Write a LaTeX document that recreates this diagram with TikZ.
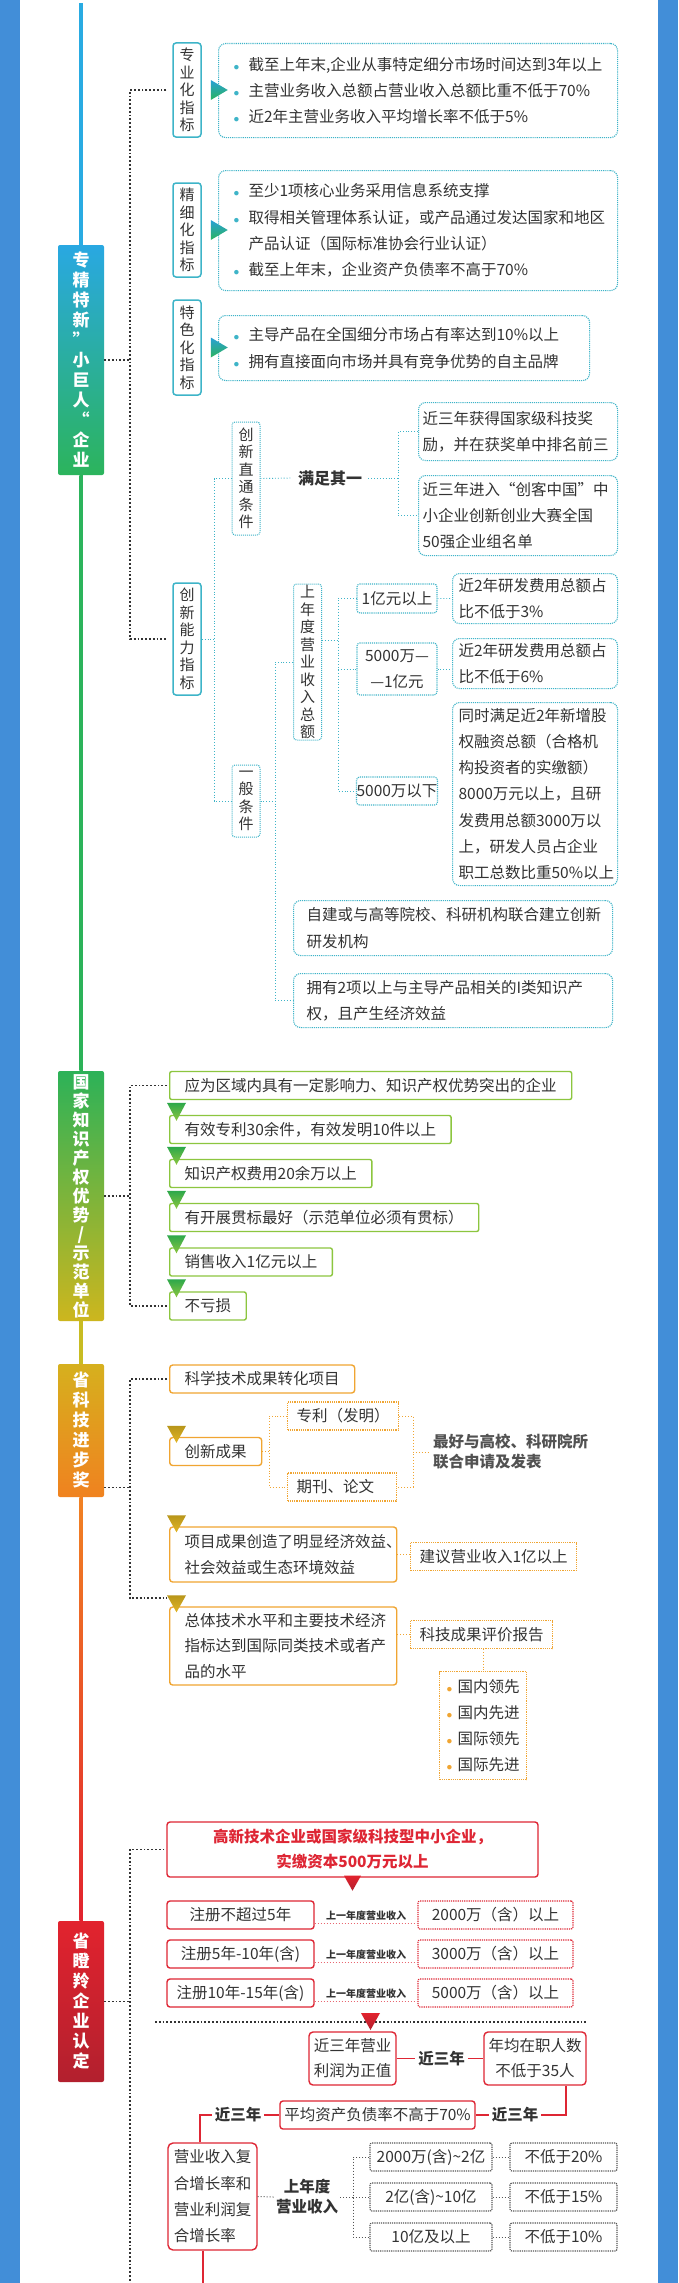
\documentclass[tikz,border=0pt]{standalone}
\usepackage{fontspec}
\setmainfont{Noto Sans CJK SC}
\usepackage{xcolor}
\usepackage{graphicx}
\usepackage{tikz}

\definecolor{frameblue}{RGB}{66,142,216}
\definecolor{ink}{RGB}{51,51,51}
\definecolor{tealc}{RGB}{62,180,200}
\definecolor{grn}{RGB}{140,198,63}
\definecolor{orng}{RGB}{240,165,50}
\definecolor{redc}{RGB}{222,38,52}
\definecolor{grayd}{RGB}{85,85,85}
\definecolor{lineblue}{RGB}{41,171,226}
\definecolor{ctopa}{RGB}{41,168,226}
\definecolor{cbota}{RGB}{44,180,92}
\definecolor{ctopb}{RGB}{44,178,88}
\definecolor{cbotb}{RGB}{205,182,30}
\definecolor{clinec}{RGB}{200,188,34}
\definecolor{ctopc}{RGB}{214,176,30}
\definecolor{cbotc}{RGB}{240,130,31}
\definecolor{clined}{RGB}{241,130,35}
\definecolor{ctopd}{RGB}{226,35,46}
\definecolor{cbotd}{RGB}{178,32,46}
\definecolor{tritop}{RGB}{40,160,215}
\definecolor{gtritop}{RGB}{45,168,75}
\definecolor{otritop}{RGB}{184,150,26}
\definecolor{otribot}{RGB}{226,181,38}

\newcommand\bul[2][15pt]{\makebox[#1][l]{\textcolor{#2}{\scalebox{0.8}{$\bullet$}}}}

\begin{document}
\begin{tikzpicture}[x=1pt, y=-1pt,
    every node/.style={text=ink, font=\fontsize{15.5}{26.3}\selectfont},
    vlab/.style={draw=tealc, line width=1.5pt, rounded corners=3pt, fill=white, minimum width=28pt, inner sep=0pt, align=center, font=\fontsize{15}{17.5}\selectfont},
    vlabd/.style={vlab, line width=1pt, densely dotted},
    catbox/.style={rounded corners=2pt, minimum width=46pt, inner sep=0pt, align=center, text=white, font=\bfseries\fontsize{17}{20}\selectfont},
    tbox/.style={draw=tealc, densely dotted, line width=1.1pt, rounded corners=7pt, fill=white, align=left, inner ysep=0pt},
    tline/.style={draw=tealc, line width=0.9pt, dotted},
    bline/.style={draw=black!80, line width=1.8pt, dotted},
    gbox/.style={draw=grn, line width=1.4pt, rounded corners=2pt, fill=white, anchor=west, inner xsep=15pt, minimum height=28pt},
    obox/.style={draw=orng, line width=1.4pt, rounded corners=3pt, fill=white, anchor=west, inner xsep=15pt, align=left, minimum height=28pt},
    odbox/.style={draw=orng, densely dotted, line width=1.2pt, fill=white, anchor=west, inner xsep=9pt, minimum height=28pt, align=left},
    oline/.style={draw=orng, line width=0.9pt, dotted},
    rbox/.style={draw=redc, line width=1.4pt, rounded corners=3pt, fill=white, align=center, inner sep=0pt},
    rdbox/.style={draw=redc, densely dotted, line width=1.2pt, rounded corners=2pt, fill=white, minimum height=28pt, inner sep=0pt},
    rline/.style={draw=redc, line width=1.4pt},
    rdot/.style={draw=redc!70, line width=1pt, dotted},
    gybox/.style={draw=grayd, densely dotted, line width=1.2pt, rounded corners=2pt, minimum height=28pt, inner sep=0pt},
    gline/.style={draw=grayd, line width=1pt, dotted}]
    \useasboundingbox (0,0) rectangle (678,2283);
    \fill[white] (0,0) rectangle (678,2283);
    \fill[frameblue] (0,0) rectangle (20,2283);
    \fill[frameblue] (658,0) rectangle (678,2283);

    \coordinate (b1) at (130,0);
    \coordinate (ltop) at (81,3);

    % main categories
    \node[catbox, top color=ctopa, bottom color=cbota, minimum height=230pt] (zjtx) at (81,360) {专\\精\\特\\新\\”\\小\\巨\\人\\“\\企\\业};
    \node[catbox, top color=ctopb, bottom color=cbotb, minimum height=250pt, font=\bfseries\fontsize{17}{19}\selectfont] (gjzs) at (81,1196) {国\\家\\知\\识\\产\\权\\优\\势\\/\\示\\范\\单\\位};
    \node[catbox, top color=ctopc, bottom color=cbotc, minimum height=133pt] (kjjb) at (81,1430.5) {省\\科\\技\\进\\步\\奖};
    \node[catbox, top color=ctopd, bottom color=cbotd, minimum height=161pt] (sdl) at (81,2001.5) {省\\瞪\\羚\\企\\业\\认\\定};

    \fill[lineblue] ([xshift=-1.75pt]ltop) rectangle ([xshift=1.75pt]zjtx.north);
    \shade[top color=cbota, bottom color=ctopb] ([xshift=-1.75pt]zjtx.south) rectangle ([xshift=1.75pt]gjzs.north);
    \fill[clinec] ([xshift=-1.75pt]gjzs.south) rectangle ([xshift=1.75pt]kjjb.north);
    \shade[top color=clined, bottom color=ctopd] ([xshift=-1.75pt]kjjb.south) rectangle ([xshift=1.75pt]sdl.north);

    % 专精特新
    \node[vlab, minimum height=94pt] (zyh) at (187,90) {专\\业\\化\\指\\标};
    \node[vlab, minimum height=94pt] (jxh) at (187,230) {精\\细\\化\\指\\标};
    \node[vlab, minimum height=95pt] (tsh) at (187,347.5) {特\\色\\化\\指\\标};
    \node[vlab, minimum height=112pt] (cxnl) at (187,639) {创\\新\\能\\力\\指\\标};

    \node[tbox, anchor=north west, minimum height=94pt, text width=369pt, inner xsep=15pt] (zyhc) at (218,43) {\bul{tealc}截至上年末,企业从事特定细分市场时间达到3年以上\\ \bul{tealc}主营业务收入总额占营业收入总额比重不低于70\%\\ \bul{tealc}近2年主营业务收入平均增长率不低于5\%};
    \node[tbox, anchor=north west, minimum height=120pt, text width=369pt, inner xsep=15pt] (jxhc) at (218,170) {\bul{tealc}至少1项核心业务采用信息系统支撑\\ \bul{tealc}取得相关管理体系认证，或产品通过发达国家和地区\\ \hspace*{15pt}产品认证（国际标准协会行业认证）\\ \bul{tealc}截至上年末，企业资产负债率不高于70\%};
    \node[tbox, anchor=north west, minimum height=65pt, text width=341pt, inner xsep=15pt] (tshc) at (218,315) {\bul{tealc}主导产品在全国细分市场占有率达到10\%以上\\ \bul{tealc}拥有直接面向市场并具有竞争优势的自主品牌};

    \shade[top color=tritop, bottom color=cbota] ([shift={(9,-10)}]zyh.east) -- ++(17,10) -- ++(-17,10) -- cycle;
    \shade[top color=tritop, bottom color=cbota] ([shift={(9,-10)}]jxh.east) -- ++(17,10) -- ++(-17,10) -- cycle;
    \shade[top color=tritop, bottom color=cbota] ([shift={(9,-10)}]tsh.east) -- ++(17,10) -- ++(-17,10) -- cycle;

    \draw[bline] (zjtx.east) -- (zjtx.east -| b1);
    \draw[bline] ([xshift=-6pt]zyh.west) -| (b1 |- cxnl.west) -- ([xshift=-6pt]cxnl.west);

    % 创新能力指标
    \node[vlabd, minimum height=113pt] (cxzt) at (246,478.5) {创\\新\\直\\通\\条\\件};
    \node[vlabd, minimum height=72pt] (ybtj) at (246,801) {一\\般\\条\\件};
    \node[font=\bfseries\fontsize{16}{20}\selectfont, inner sep=6pt] (mzqy) at (330,478) {满足其一};
    \node[tbox, anchor=north west, minimum height=58pt, text width=191pt, inner xsep=4pt] (jl1) at (418,402) {近三年获得国家级科技奖\\励，并在获奖单中排名前三};
    \node[tbox, anchor=north west, minimum height=80pt, text width=191pt, inner xsep=4pt] (jl2) at (418,475) {近三年进入“创客中国”中\\小企业创新创业大赛全国\\50强企业组名单};

    \coordinate (k1) at (398,0);
    \coordinate (k2) at (214,0);
    \coordinate (k3) at (275,0);
    \coordinate (k4) at (338,0);
    \draw[tline] (cxnl.east) -- (cxnl.east -| k2);
    \draw[tline] (cxzt.west) -| (k2 |- ybtj.west) -- (ybtj.west);
    \draw[tline] (cxzt.east) -- (mzqy.west);
    \draw[tline] (mzqy.east) -- (mzqy.east -| k1);
    \draw[tline] (jl1.west) -| (k1 |- jl2.west) -- (jl2.west);

    \node[vlabd, minimum height=156pt] (sndz) at (307.5,662) {上\\年\\度\\营\\业\\收\\入\\总\\额};
    \node[tbox, rounded corners=3pt, minimum width=80pt, minimum height=29pt, inner xsep=0pt, align=center] (yi1) at (397,598.5) {1亿元以上};
    \node[tbox, rounded corners=3pt, minimum width=80pt, minimum height=52pt, inner xsep=0pt, align=center] (yi2) at (397,669) {5000万—\\—1亿元};
    \node[tbox, rounded corners=3pt, minimum width=80pt, minimum height=28pt, inner xsep=0pt, align=center] (yi3) at (397,791) {5000万以下};
    \node[tbox, anchor=north west, minimum height=50pt, text width=153pt, inner xsep=6pt] (r1) at (452,573) {近2年研发费用总额占\\比不低于3\%};
    \node[tbox, anchor=north west, minimum height=50pt, text width=153pt, inner xsep=6pt] (r2) at (452,638) {近2年研发费用总额占\\比不低于6\%};
    \node[tbox, anchor=north west, minimum height=183pt, text width=153pt, inner xsep=6pt] (r3) at (452,702) {同时满足近2年新增股\\权融资总额（合格机\\构投资者的实缴额）\\8000万元以上，且研\\发费用总额3000万以\\上，研发人员占企业\\职工总数比重50\%以上};
    \node[tbox, anchor=north west, minimum height=55pt, text width=293pt, inner xsep=13pt] (zj) at (293,900) {自建或与高等院校、科研机构联合建立创新\\研发机构};
    \node[tbox, anchor=north west, minimum height=54pt, text width=293pt, inner xsep=13pt] (yy) at (293,973) {拥有2项以上与主导产品相关的I类知识产\\权，且产生经济效益};

    \coordinate (s1) at ([yshift=22pt]sndz.east);
    \draw[tline] (ybtj.east) -- (ybtj.east -| k3);
    \draw[tline] (sndz.west) -| (k3 |- yy.west) -- (yy.west);
    \draw[tline] (s1) -- (s1 -| k4);
    \draw[tline] (yi1.west) -| (k4 |- yi3.west) -- (yi3.west);
    \draw[tline] (k4 |- yi2.west) -- (yi2.west);
    \draw[tline] (yi1.east) -- (r1.west);
    \draw[tline] (yi2.east) -- (yi2.east -| r2.west);

    % 国家知识产权优势/示范单位
    \node[gbox] (g1) at (169,1085.5) {应为区域内具有一定影响力、知识产权优势突出的企业};
    \node[gbox] (g2) at (169,1129.5) {有效专利30余件，有效发明10件以上};
    \node[gbox] (g3) at (169,1173.5) {知识产权费用20余万以上};
    \node[gbox] (g4) at (169,1217.5) {有开展贯标最好（示范单位必须有贯标）};
    \node[gbox] (g5) at (169,1262) {销售收入1亿元以上};
    \node[gbox] (g6) at (169,1306) {不亏损};
    \shade[top color=gtritop, bottom color=grn] ([shift={(-2,-12)}]g2.north west) -- ++(19,0) -- ++(-9.5,18) -- cycle;
    \shade[top color=gtritop, bottom color=grn] ([shift={(-2,-12)}]g3.north west) -- ++(19,0) -- ++(-9.5,18) -- cycle;
    \shade[top color=gtritop, bottom color=grn] ([shift={(-2,-12)}]g4.north west) -- ++(19,0) -- ++(-9.5,18) -- cycle;
    \shade[top color=gtritop, bottom color=grn] ([shift={(-2,-12)}]g5.north west) -- ++(19,0) -- ++(-9.5,18) -- cycle;
    \shade[top color=gtritop, bottom color=grn] ([shift={(-2,-12)}]g6.north west) -- ++(19,0) -- ++(-9.5,18) -- cycle;
    \draw[bline] (gjzs.east) -- (gjzs.east -| b1);
    \draw[bline] ([xshift=-2pt]g1.west) -| (b1 |- g6.west) -- ([xshift=-2pt]g6.west);

    % 省科技进步奖
    \node[obox] (o1) at (169,1379) {科学技术成果转化项目};
    \node[obox] (o2) at (169,1451.5) {创新成果};
    \node[obox, minimum height=55pt, text width=197pt] (o3) at (169,1554.5) {项目成果创造了明显经济效益、\\社会效益或生态环境效益};
    \node[obox, minimum height=78pt, text width=197pt, font=\fontsize{15.5}{25.5}\selectfont] (o4) at (169,1646) {总体技术水平和主要技术经济\\指标达到国际同类技术或者产\\品的水平};
    \shade[top color=otritop, bottom color=otribot] ([shift={(-2,-11)}]o2.north west) -- ++(19,0) -- ++(-9.5,17) -- cycle;
    \shade[top color=otritop, bottom color=otribot] ([shift={(-2,-11)}]o3.north west) -- ++(19,0) -- ++(-9.5,17) -- cycle;
    \shade[top color=otritop, bottom color=otribot] ([shift={(-2,-11)}]o4.north west) -- ++(19,0) -- ++(-9.5,17) -- cycle;
    \coordinate (ob) at ([shift={(-2,-8)}]o4.north west);
    \draw[bline] ([yshift=-57pt]kjjb.east) -- ([yshift=-57pt]kjjb.east -| b1);
    \draw[bline] ([xshift=-2pt]o1.west) -| (b1 |- ob) -- (ob);

    \node[odbox] (zl) at (287,1416) {专利（发明）};
    \node[odbox, text width=91pt] (qk) at (287,1487) {期刊、论文};
    \node[anchor=west, align=left, font=\bfseries\fontsize{15.5}{20}\selectfont, inner sep=3pt, text=ink!85] (lh) at (430,1452) {最好与高校、科研院所\\联合申请及发表};
    \coordinate (k5) at (269,0);
    \coordinate (k6) at (413,0);
    \draw[oline] (o2.east) -- (o2.east -| k5);
    \draw[oline] (zl.west) -| (k5 |- qk.west) -- (qk.west);
    \draw[oline] (zl.east) -| (k6 |- qk.east) -- (qk.east);
    \draw[oline] (k6 |- lh.west) -- (lh.west);

    \node[odbox] (jy) at (410,1556.5) {建议营业收入1亿以上};
    \node[odbox] (pj) at (410,1634.5) {科技成果评价报告};
    \node[odbox, anchor=north west, minimum width=87pt, minimum height=108pt, inner xsep=5pt] (ls) at (439,1671) {\bul[11pt]{orng}国内领先\\ \bul[11pt]{orng}国内先进\\ \bul[11pt]{orng}国际领先\\ \bul[11pt]{orng}国际先进};
    \draw[oline] (o3.east) -- (o3.east -| jy.west);
    \draw[oline] (pj.west -| o4.east) -- (pj.west);
    \draw[oline] (ls.north |- pj.south) -- (ls.north);

    % 省瞪羚企业认定
    \node[rbox, minimum width=371pt, minimum height=55pt, text=redc, font=\bfseries\fontsize{15.5}{25}\selectfont] (rtop) at (352.5,1849.5) {高新技术企业或国家级科技型中小企业，\\实缴资本500万元以上};
    \shade[top color=ctopd, bottom color=cbotd] ([shift={(-8.5,-2)}]rtop.south) -- ++(17,0) -- ++(-8.5,15) -- cycle;
    \coordinate (bend) at (130,2283);
    \draw[bline] (sdl.east) -- (sdl.east -| b1);
    \draw[bline] ([xshift=-2pt]rtop.west) -| (bend);

    \node[rbox, minimum width=147pt, minimum height=28pt] (rl1) at (240.5,1915) {注册不超过5年};
    \node[rbox, minimum width=147pt, minimum height=28pt] (rl2) at (240.5,1954) {注册5年-10年(含)};
    \node[rbox, minimum width=147pt, minimum height=28pt] (rl3) at (240.5,1993) {注册10年-15年(含)};
    \node[rdbox, minimum width=155pt] (rr1) at (495.5,1915) {2000万（含）以上};
    \node[rdbox, minimum width=155pt] (rr2) at (495.5,1954) {3000万（含）以上};
    \node[rdbox, minimum width=155pt] (rr3) at (495.5,1993) {5000万（含）以上};
    \draw[rdot] ([yshift=-8pt]rl1.east) -- ([yshift=-8pt]rr1.west) node[midway, above, inner sep=2pt, font=\bfseries\fontsize{10}{12}\selectfont] {上一年度营业收入};
    \draw[rdot] ([yshift=-8pt]rl2.east) -- ([yshift=-8pt]rr2.west) node[midway, above, inner sep=2pt, font=\bfseries\fontsize{10}{12}\selectfont] {上一年度营业收入};
    \draw[rdot] ([yshift=-8pt]rl3.east) -- ([yshift=-8pt]rr3.west) node[midway, above, inner sep=2pt, font=\bfseries\fontsize{10}{12}\selectfont] {上一年度营业收入};

    \draw[bline] (155,2022) -- (587,2022);
    \shade[top color=ctopd, bottom color=cbotd] (361,2013) -- (380,2013) -- (370.5,2030) -- cycle;

    \node[rbox, minimum width=87pt, minimum height=53pt, rounded corners=4pt, font=\fontsize{15.5}{25}\selectfont] (lr) at (352.5,2058.5) {近三年营业\\利润为正值};
    \node[rbox, minimum width=102pt, minimum height=53pt, rounded corners=4pt, font=\fontsize{15.5}{25}\selectfont] (ry) at (535,2058.5) {年均在职人数\\不低于35人};
    \node[rbox, minimum width=195pt, minimum height=28pt] (fz) at (377.5,2115) {平均资产负债率不高于70\%};
    \node[rbox, minimum width=89pt, minimum height=107pt, align=left, rounded corners=5pt] (fh) at (212.5,2196.5) {营业收入复\\合增长率和\\营业利润复\\合增长率};
    \node[font=\bfseries\fontsize{15.5}{20}\selectfont, inner sep=3pt] (l3a) at (441.5,2058.5) {近三年};
    \node[font=\bfseries\fontsize{15.5}{20}\selectfont, inner sep=3pt] (l3b) at (515,2115) {近三年};
    \node[font=\bfseries\fontsize{15.5}{20}\selectfont, inner sep=3pt] (l3c) at (238,2115) {近三年};
    \coordinate (s2) at ([xshift=31pt]ry.south);
    \coordinate (s3) at ([xshift=-12.5pt]fh.north);
    \draw[rline] (lr.east) -- (l3a.west);
    \draw[rline] (l3a.east) -- (ry.west);
    \draw[rline] (s2) |- (l3b.east);
    \draw[rline] (l3b.west) -- (fz.east);
    \draw[rline] (fz.west) -- (l3c.east);
    \draw[rline] (l3c.west) -| (s3);
    \draw[rline] ([xshift=-9.5pt]fh.south) -- ++(0,33);

    \node[font=\bfseries\fontsize{15.5}{20}\selectfont, inner sep=2pt, align=center] (sn) at (307,2197) {上年度\\营业收入};
    \node[gybox, minimum width=122pt] (gl1) at (431,2157) {2000万(含)\textasciitilde 2亿};
    \node[gybox, minimum width=122pt] (gl2) at (431,2197) {2亿(含)\textasciitilde 10亿};
    \node[gybox, minimum width=122pt] (gl3) at (431,2237) {10亿及以上};
    \node[gybox, minimum width=107pt] (gr1) at (563.5,2157) {不低于20\%};
    \node[gybox, minimum width=107pt] (gr2) at (563.5,2197) {不低于15\%};
    \node[gybox, minimum width=107pt] (gr3) at (563.5,2237) {不低于10\%};
    \coordinate (k7) at (353,0);
    \draw[gline] (fh.east) -- (sn.west);
    \draw[gline] (sn.east) -- (sn.east -| k7);
    \draw[gline] (gl1.west) -| (k7 |- gl3.west) -- (gl3.west);
    \draw[gline] (k7 |- gl2.west) -- (gl2.west);
    \draw[gline] (gl1.east) -- (gr1.west);
    \draw[gline] (gl2.east) -- (gr2.west);
    \draw[gline] (gl3.east) -- (gr3.west);
\end{tikzpicture}
\end{document}
